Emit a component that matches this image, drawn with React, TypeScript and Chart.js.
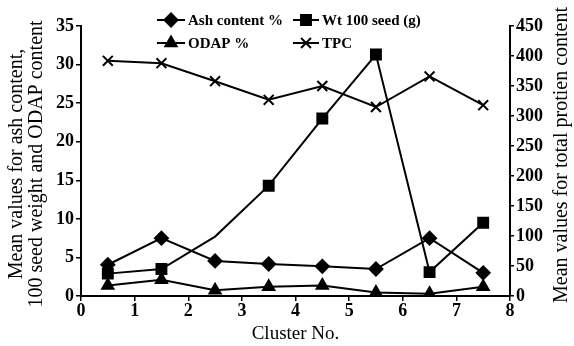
import React, { useEffect, useRef } from "react";
import { Chart, registerables } from "chart.js";
import { drawPoint } from "chart.js/helpers";

Chart.register(...registerables);

const clusters = [0.5, 1.5, 2.5, 3.5, 4.5, 5.5, 6.5, 7.5];
const ashContent = [4.05, 7.5, 4.55, 4.15, 3.85, 3.5, 7.5, 3.0];
const wt100Seed = [2.9, 3.5, 7.7, 14.3, 23.0, 31.3, 3.1, 9.5];
const odap = [1.35, 2.1, 0.75, 1.2, 1.35, 0.45, 0.3, 1.2];
const tpc = [392, 388, 358, 327, 350, 315, 366, 318];
const wtMarkerShown = [true, true, false, true, true, true, true, true];

const leftTitle = ["Mean values for ash content,", "100 seed weight and ODAP content"];
const rightTitle = "Mean values for total protien content";
const xTitle = "Cluster No.";

const SERIF = "'Liberation Serif', 'DejaVu Serif', serif";

const legendItems = [
  { label: "Ash content %", style: "rectRot", radius: 6.5, col: 0, row: 0 },
  { label: "Wt 100 seed (g)", style: "rect", radius: 7, col: 1, row: 0 },
  { label: "ODAP %", style: "triangle", radius: 6.5, col: 0, row: 1 },
  { label: "TPC", style: "crossRot", radius: 7, col: 1, row: 1 },
];

const legendPlugin = {
  id: "customLegend",
  afterDraw(chart: any) {
    const ctx = chart.ctx;
    const colLine = [
      [157, 185, 188],
      [293, 319, 322],
    ];
    const rowY = [20, 43];
    ctx.save();
    ctx.font = `bold 15px ${SERIF}`;
    ctx.fillStyle = "#000";
    ctx.strokeStyle = "#000";
    ctx.textBaseline = "middle";
    ctx.textAlign = "left";
    for (const it of legendItems) {
      const [x0, x1, tx] = colLine[it.col];
      const y = rowY[it.row];
      ctx.lineWidth = 2;
      ctx.beginPath();
      ctx.moveTo(x0, y);
      ctx.lineTo(x1, y);
      ctx.stroke();
      ctx.save();
      ctx.lineWidth = 2;
      drawPoint(ctx, { pointStyle: it.style, rotation: 0, radius: it.radius, borderWidth: 2 } as any, (x0 + x1) / 2, y);
      ctx.restore();
      ctx.fillStyle = "#000";
      ctx.fillText(it.label, tx, y + 1);
    }
    ctx.restore();
  },
};

const axisTitlePlugin = {
  id: "axisTitles",
  afterDraw(chart: any) {
    const ctx = chart.ctx;
    const area = chart.chartArea;
    const cy = (area.top + area.bottom) / 2 + 3;
    ctx.save();
    ctx.fillStyle = "#000";
    ctx.font = `20px ${SERIF}`;
    ctx.textAlign = "center";
    ctx.textBaseline = "middle";
    const leftXs = [17, 37];
    leftTitle.forEach((line, i) => {
      ctx.save();
      ctx.translate(leftXs[i], cy);
      ctx.rotate(-Math.PI / 2);
      ctx.fillText(line, 0, 0);
      ctx.restore();
    });
    ctx.save();
    ctx.translate(562, cy - 9);
    ctx.rotate(-Math.PI / 2);
    ctx.fillText(rightTitle, 0, 0);
    ctx.restore();
    ctx.restore();
  },
};

function pts(values: number[]) {
  return clusters.map((x, i) => ({ x, y: values[i] }));
}

export default function App() {
  const ref = useRef<HTMLCanvasElement>(null);
  useEffect(() => {
    document.body.style.margin = "0";
    const common = {
      borderColor: "#000",
      backgroundColor: "#000",
      pointBorderColor: "#000",
      pointBackgroundColor: "#000",
      borderWidth: 2,
      pointBorderWidth: 2,
      tension: 0,
      fill: false,
    };
    const tickFont = { family: SERIF, size: 18, weight: "bold" };
    const chart = new Chart(ref.current!, {
      type: "line",
      data: {
        datasets: [
          { ...common, label: "Ash content %", data: pts(ashContent), pointStyle: "rectRot", pointRadius: 6.5, yAxisID: "y" },
          {
            ...common,
            label: "Wt 100 seed (g)",
            data: pts(wt100Seed),
            pointStyle: "rect",
            pointRadius: wtMarkerShown.map((s) => (s ? 7 : 0)),
            yAxisID: "y",
          },
          { ...common, label: "ODAP %", data: pts(odap), pointStyle: "triangle", pointRadius: 6.5, yAxisID: "y" },
          { ...common, label: "TPC", data: pts(tpc), pointStyle: "crossRot", pointRadius: 7, yAxisID: "y1" },
        ],
      },
      options: {
        animation: false,
        responsive: false,
        maintainAspectRatio: false,
        layout: { padding: { top: 26, left: 0, right: 0, bottom: 0 } },
        plugins: { legend: { display: false }, tooltip: { enabled: false } },
        scales: {
          x: {
            type: "linear",
            min: 0,
            max: 8,
            ticks: { stepSize: 1, color: "#000", font: tickFont, padding: 0 },
            grid: { drawOnChartArea: false, drawTicks: true, tickLength: 5, color: "#000", lineWidth: 1.5 },
            border: { display: true, color: "#000", width: 2 },
            title: { display: true, text: xTitle, color: "#000", font: { family: SERIF, size: 19 }, padding: { top: 0, bottom: 1 } },
            afterFit: (s: any) => {
              s.height = 50;
            },
          },
          y: {
            type: "linear",
            position: "left",
            min: 0,
            max: 35,
            ticks: { stepSize: 5, color: "#000", font: tickFont, padding: 2 },
            grid: { drawOnChartArea: false, drawTicks: true, tickLength: 5, color: "#000", lineWidth: 1.5 },
            border: { display: true, color: "#000", width: 2 },
            afterFit: (s: any) => {
              s.width = 81;
            },
          },
          y1: {
            type: "linear",
            position: "right",
            min: 0,
            max: 450,
            ticks: { stepSize: 50, color: "#000", font: tickFont, padding: 2 },
            grid: { drawOnChartArea: false, drawTicks: true, tickLength: 4, color: "#000", lineWidth: 1.5 },
            border: { display: true, color: "#000", width: 2 },
            afterFit: (s: any) => {
              s.width = 64;
            },
          },
        },
      },
      plugins: [legendPlugin, axisTitlePlugin],
    } as any);
    return () => chart.destroy();
  }, []);
  return (
    <div style={{ width: 574, height: 346 }}>
      <canvas ref={ref} width={574} height={346} style={{ display: "block" }} />
    </div>
  );
}
